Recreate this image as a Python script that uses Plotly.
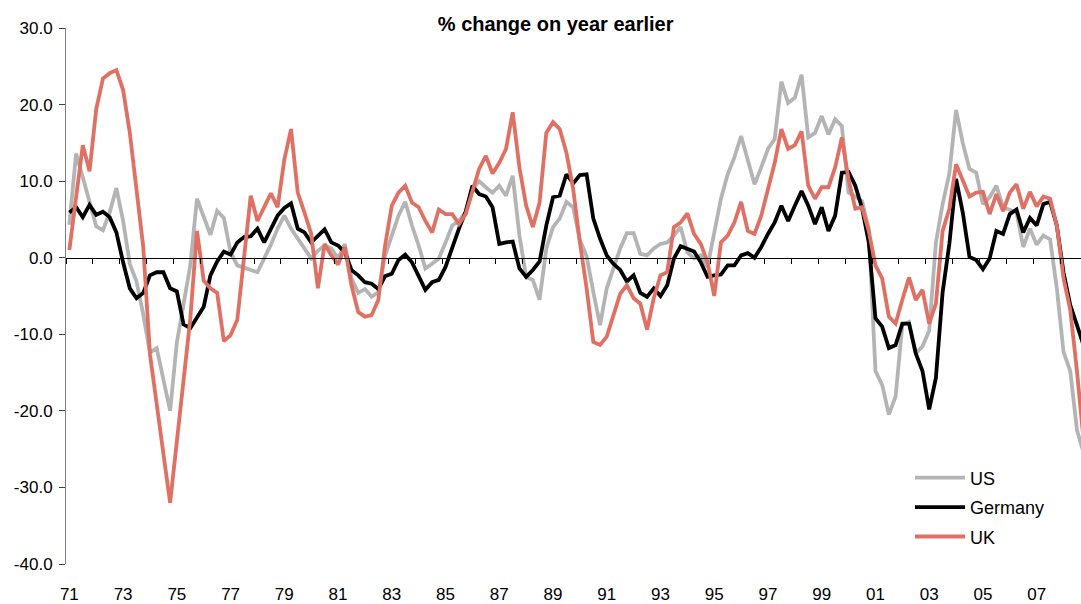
import plotly.graph_objects as go

# quarterly, 1971Q1 .. 2008Q4
quarters = [f"{1971 + k // 4}Q{k % 4 + 1}" for k in range(152)]

us = [
    4.3, 13.6, 10.5, 7.2, 4.1, 3.6, 5.9, 9.1, 4.8, -0.8,
    -3.1, -7.4, -12.4, -11.8, -16.1, -20.0, -11.1, -6.1, -1.0, 7.7,
    5.5, 3.0, 6.1, 5.2, 0.7, -1.0, -1.3, -1.6, -1.9, -0.1,
    1.7, 3.8, 5.5, 3.8, 2.5, 1.2, -0.1, 0.9, 1.6, 1.2,
    -0.1, 1.8, -2.7, -4.6, -4.1, -5.1, -4.5, 0.3, 2.9, 5.5,
    7.3, 4.2, 1.6, -1.4, -0.8, -0.1, 2.0, 4.2, 4.8, 6.0,
    9.0, 10.0, 9.2, 8.5, 9.4, 8.1, 10.7, 2.9, -2.5, -2.9,
    -5.5, 1.2, 4.0, 5.1, 7.3, 6.6, 2.3, 0.2, -4.5, -8.8,
    -4.0, -1.4, 1.2, 3.2, 3.2, 0.5, 0.3, 1.2, 1.8, 2.0,
    2.9, 4.0, 0.7, -0.1, 0.3, -1.2, 3.3, 7.7, 10.9, 13.1,
    15.9, 12.9, 9.6, 11.8, 14.2, 15.5, 23.0, 20.2, 20.9, 23.9,
    15.7, 16.3, 18.5, 16.1, 18.1, 17.2, 8.5, 8.0, 7.4, 3.8,
    -14.8, -16.6, -20.5, -18.1, -8.8, -8.4, -12.5, -11.6, -9.5, 2.0,
    7.0, 11.0, 19.3, 15.0, 11.6, 11.1, 7.0, 7.9, 9.4, 6.6,
    6.2, 5.9, 1.4, 3.8, 1.7, 2.9, 2.4, -4.0, -12.3, -14.8,
    -22.5, -25.5,
]

germany = [
    5.9, 6.6, 5.3, 6.9, 5.6, 6.0, 5.3, 3.3, -0.6, -4.0,
    -5.3, -4.6, -2.3, -1.9, -1.9, -4.0, -4.4, -8.7, -9.2, -7.9,
    -6.4, -2.3, -0.5, 0.8, 0.4, 2.0, 2.7, 2.8, 3.8, 2.0,
    3.8, 5.5, 6.5, 7.1, 3.8, 3.3, 2.0, 2.8, 3.7, 2.0,
    1.6, 0.7, -1.6, -2.3, -3.2, -3.4, -4.1, -2.4, -2.1, -0.3,
    0.4, -0.6, -2.3, -4.2, -3.2, -2.9, -1.2, 1.4, 3.8, 6.0,
    9.4, 8.3, 8.0, 6.6, 1.8, 2.0, 2.1, -1.4, -2.5, -1.6,
    -0.5, 4.2, 7.9, 8.1, 10.9, 9.7, 10.8, 10.9, 5.1, 2.5,
    0.3, -0.8, -1.6, -3.1, -2.3, -4.6, -5.1, -4.0, -5.0, -3.6,
    -0.1, 1.5, 1.2, 0.8, -0.6, -2.5, -2.3, -2.2, -1.0, -1.0,
    0.3, 0.6, 0.0, 1.4, 3.1, 4.6, 6.8, 4.8, 6.8, 8.7,
    6.8, 4.4, 6.6, 3.5, 5.5, 11.1, 11.2, 9.4, 6.5, 2.0,
    -7.9, -9.0, -11.8, -11.4, -8.6, -8.6, -12.5, -14.8, -19.8, -15.7,
    -4.5, 1.8, 10.3, 5.9, 0.1, -0.3, -1.5, -0.1, 3.5, 3.1,
    5.7, 6.3, 3.3, 5.2, 4.2, 7.0, 7.3, 4.2, -1.9, -6.2,
    -8.8, -11.5,
]

uk = [
    1.0, 8.0, 14.7, 11.3, 19.4, 23.4, 24.1, 24.5, 21.9, 16.3,
    8.5, 1.4, -12.6, -19.5, -25.6, -32.0, -23.9, -16.1, -8.0, 3.5,
    -3.0, -4.0, -4.6, -10.9, -10.1, -8.1, 0.5, 8.1, 4.8, 6.6,
    8.4, 6.6, 12.8, 16.8, 8.5, 5.9, 3.1, -4.0, 1.8, 0.3,
    -0.9, 1.4, -3.6, -7.1, -7.7, -7.5, -5.5, 1.6, 6.8, 8.5,
    9.4, 7.2, 6.6, 4.8, 3.3, 6.3, 5.7, 5.7, 4.4, 5.7,
    8.7, 11.6, 13.3, 11.0, 12.4, 14.2, 19.0, 11.8, 6.8, 4.0,
    7.2, 16.3, 17.7, 16.8, 13.7, 9.0, 2.0, -4.0, -11.0, -11.4,
    -10.3, -7.5, -4.7, -3.6, -5.3, -6.0, -9.4, -5.3, -2.3, -1.9,
    4.0, 4.6, 5.8, 3.1, 1.8, -0.6, -5.0, 2.0, 2.9, 4.6,
    7.3, 3.5, 3.1, 5.5, 9.2, 12.4, 16.8, 14.2, 14.7, 16.5,
    9.4, 7.7, 9.2, 9.2, 11.8, 15.7, 10.2, 6.4, 6.6, 3.5,
    -1.0, -2.7, -7.7, -8.6, -5.5, -2.6, -5.5, -4.2, -8.6, -6.0,
    3.5, 6.4, 12.2, 10.0, 8.0, 8.5, 8.6, 5.7, 8.3, 6.1,
    8.5, 9.6, 6.4, 8.6, 6.7, 8.0, 7.7, 4.2, -2.7, -6.8,
    -14.8, -24.0,
]

label_quarters = [f"{y}Q1" for y in range(1971, 2009, 2)]
label_text = [str(y)[2:] for y in range(1971, 2009, 2)]

y_ticks = [-40, -30, -20, -10, 0, 10, 20, 30]
y_text = [f"{v:.1f}" for v in y_ticks]  # plain hyphen, as in the original

series = [("US", us, "#B4B4B4"), ("Germany", germany, "#000000"), ("UK", uk, "#E07064")]

FONT = "Liberation Sans, Arial, sans-serif"

fig = go.Figure()
for name, vals, col in series:
    fig.add_trace(go.Scatter(
        x=quarters, y=vals, name=name, mode="lines",
        line=dict(color=col, width=3.8),
        legendgroup=name,
    ))

# helper trace so the zero-level axis with year ticks gets drawn
fig.add_trace(go.Scatter(
    x=[-0.5], y=[0], xaxis="x2", mode="lines",
    showlegend=False, hoverinfo="skip", line=dict(width=0),
))

fig.update_layout(
    width=1081, height=604,
    margin=dict(l=66, r=0, t=28, b=38),
    paper_bgcolor="white", plot_bgcolor="white",
    font=dict(family=FONT, size=17, color="black"),
    title=dict(
        text="<b>% change on year earlier</b>",
        x=0.514, xanchor="center", y=0.96, yanchor="middle",
        font=dict(family=FONT, size=20),
    ),
    xaxis=dict(
        type="category", range=[-0.5, 150.6],
        tickmode="array", tickvals=label_quarters, ticktext=label_text,
        showline=False, ticks="", showgrid=False, zeroline=False,
        tickfont=dict(size=17), ticklabelstandoff=18,
    ),
    xaxis2=dict(
        overlaying="x", anchor="free", position=40 / 70,
        range=[-0.5, 150.6], showline=True, linecolor="black", linewidth=1,
        ticks="outside", ticklen=5, tickcolor="black", tickwidth=1,
        tick0=-0.5, dtick=4, showticklabels=False, showgrid=False, zeroline=False,
    ),
    yaxis=dict(
        range=[-40, 30], tickmode="array", tickvals=y_ticks, ticktext=y_text,
        showline=True, linecolor="#808080", linewidth=1,
        ticks="outside", ticklen=6, tickcolor="#404040",
        showgrid=False, zeroline=False, tickfont=dict(size=17),
        ticklabelstandoff=3,
    ),
    legend=dict(
        x=0.8315, y=0.195, xanchor="left", yanchor="top",
        bgcolor="rgba(0,0,0,0)", font=dict(size=18),
        tracegroupgap=3, traceorder="grouped", itemwidth=50,
    ),
    showlegend=True,
)

# drop the default page margin so the figure fills the window exactly
fig.write_html(
    "out.html",
    config={"displayModeBar": False},
    post_script="document.body.style.margin='0';"
                "document.documentElement.style.overflow='hidden';",
)
